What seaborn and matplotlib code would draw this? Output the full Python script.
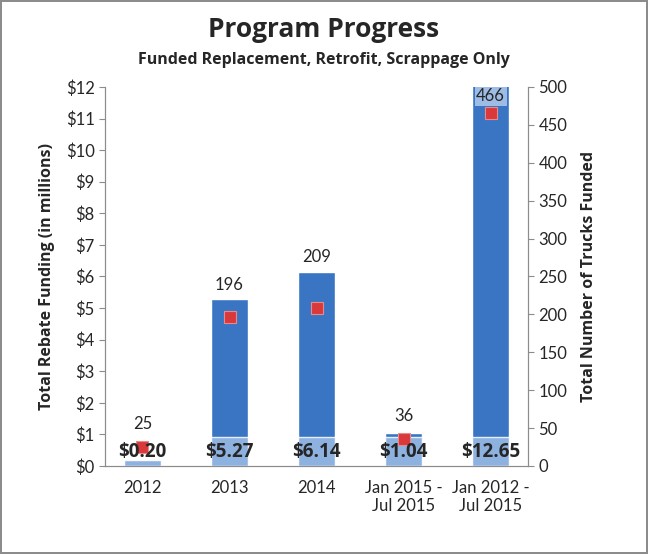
import numpy as np
import pandas as pd
import matplotlib.pyplot as plt
import seaborn as sns

sns.set_style("white")
plt.rcParams['font.family'] = ['Lato', 'DejaVu Sans']
BOLD = ['Open Sans', 'DejaVu Sans']

# data
periods = ["2012", "2013", "2014", "Jan 2015 -\nJul 2015", "Jan 2012 -\nJul 2015"]
funding = [0.20, 5.27, 6.14, 1.04, 12.65]   # $ millions
trucks = [25, 196, 209, 36, 466]

df = pd.DataFrame({"period": periods, "funding": funding, "trucks": trucks})

fig = plt.figure(figsize=(6.48, 5.54), dpi=100)
fig.patch.set_edgecolor("#8c8c8c")
fig.patch.set_linewidth(1.5)
ax = fig.add_axes([0.162, 0.159, 0.653, 0.684])

sns.barplot(data=df, x="period", y="funding", color="#3a75c4", width=0.42,
            saturation=1, ax=ax, zorder=2)
# lighter band at bar bottoms (label area)
sns.barplot(data=df.assign(low=df["funding"].clip(upper=0.92)), x="period", y="low",
            color="#9dbde6", width=0.42, saturation=1, alpha=0.85, ax=ax, zorder=3)

ax.set_ylim(0, 12)
ax.set_yticks(range(0, 13))
ax.set_yticklabels([f"${v}" for v in range(0, 13)])
ax.set_xlabel("")
ax.set_ylabel("Total Rebate Funding (in millions)", fontsize=11.5, fontweight="bold",
              family=BOLD, labelpad=8)

ax2 = ax.twinx()
ax2.set_ylim(0, 500)
ax2.set_yticks(range(0, 501, 50))
ax2.scatter(range(len(trucks)), df["trucks"], marker="s", s=85, color="#d9393b",
            edgecolor="#e88a8a", linewidth=0.8, zorder=5)
ax2.set_ylabel("Total Number of Trucks Funded", fontsize=11.5, fontweight="bold",
               family=BOLD, labelpad=10)

for a in (ax, ax2):
    a.spines["top"].set_visible(False)
    for s in ["left", "right", "bottom"]:
        a.spines[s].set_color("#8c8c8c")
    a.tick_params(axis="y", labelsize=12, length=4, color="#8c8c8c", direction="out")
ax.tick_params(axis="y", left=True, right=False)
ax2.tick_params(axis="y", right=True)
ax.tick_params(axis="x", labelsize=12, length=0, pad=10)

# labels (drawn on ax2 so they sit above the markers)
for i, (f, t) in enumerate(zip(funding, trucks)):
    ax2.annotate(f"${f:.2f}", (i, 0), xytext=(0, 3), textcoords="offset points",
                 ha="center", va="bottom", fontsize=13.5, fontweight="bold",
                 family=BOLD, zorder=6)
    if f > 12:
        ax.annotate(f"{t}", (i, 12), xytext=(0, -1), textcoords="offset points",
                    ha="center", va="top", fontsize=12, zorder=6,
                    bbox=dict(boxstyle="square,pad=0.1", fc="#9dbde6", ec="none"))
    else:
        top = max(f, t * 12 / 500 + 0.25)
        ax.annotate(f"{t}", (i, top), xytext=(0, 5), textcoords="offset points",
                    ha="center", va="bottom", fontsize=12, zorder=6)

fig.text(0.5, 0.947, "Program Progress", ha="center", va="center",
         fontsize=19, fontweight="bold", family=BOLD)
fig.text(0.5, 0.892, "Funded Replacement, Retrofit, Scrappage Only", ha="center",
         va="center", fontsize=11.5, fontweight="bold", family=BOLD)

fig.savefig("out.png", dpi=100)
